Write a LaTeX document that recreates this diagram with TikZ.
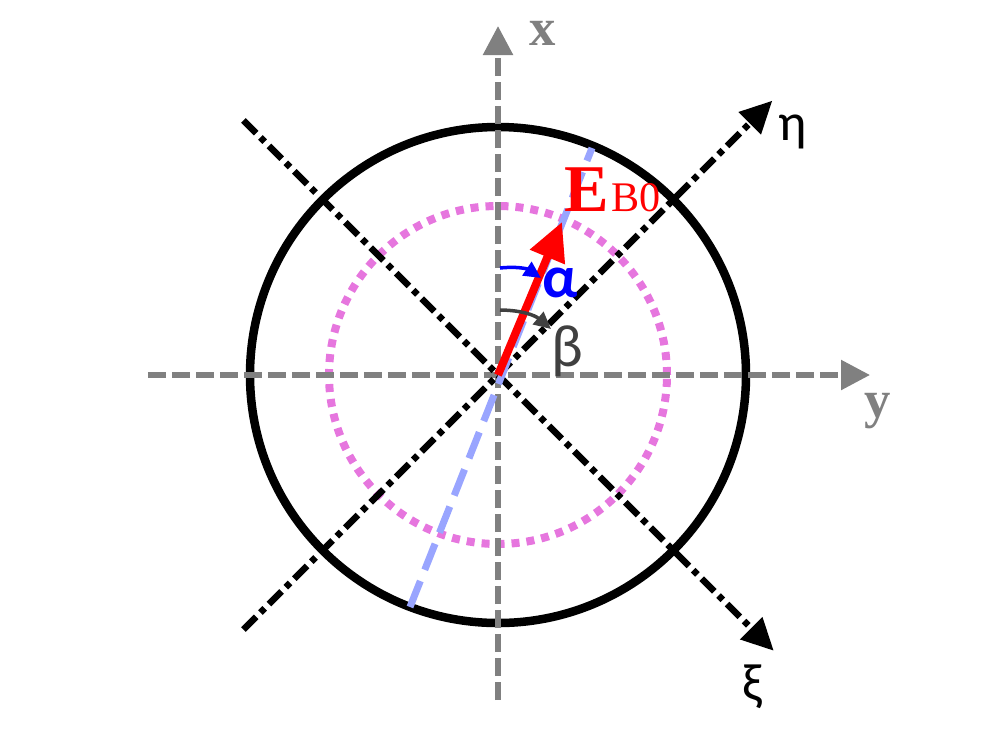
\documentclass[tikz,border=0pt]{standalone}
\usepackage{fontspec}
\setmainfont{Liberation Serif}
\newfontfamily\greekfont{Carlito}
\usetikzlibrary{arrows.meta,positioning}
\definecolor{axisgray}{RGB}{128,128,128}
\definecolor{ringpink}{RGB}{230,118,222}
\definecolor{linkblue}{RGB}{153,165,255}
\definecolor{anglegray}{RGB}{64,64,64}

\begin{document}
\begin{tikzpicture}[
    axis/.style={draw=axisgray, line width=0.055cm, dash pattern=on 0.18cm off 0.06cm,
      -{Triangle[length=0.29cm, width=0.29cm]}},
    principal/.style={draw=black, line width=0.065cm,
      dash pattern=on 0.18cm off 0.06cm on 0.06cm off 0.06cm,
      -{Triangle[length=0.32cm, width=0.30cm]}},
    ring/.style={draw=black, line width=0.085cm},
    inner ring/.style={draw=ringpink, line width=0.08cm, dash pattern=on 0.08cm off 0.07cm},
    field line/.style={draw=linkblue, line width=0.07cm, dash pattern=on 0.28cm off 0.12cm},
    field/.style={draw=red, line width=0.08cm, -{Triangle[length=0.38cm, width=0.36cm]}},
    angle/.style={line width=0.035cm, -{Triangle[length=0.17cm, width=0.16cm]}},
    axlabel/.style={text=axisgray, font=\fontsize{15}{15}\selectfont\bfseries, inner sep=0pt},
    greek/.style={font=\fontsize{15}{15}\selectfont\greekfont, inner sep=0pt}]
  \useasboundingbox (-4.98,-3.75) rectangle (5.02,3.75);
  \coordinate (O) at (0,0);
  % rings
  \draw[inner ring] (O) circle (1.69);
  \draw[ring] (O) circle (2.48);
  % lab axes
  \coordinate (xs) at (0,-3.25);
  \coordinate (xe) at (0,3.49);
  \coordinate (ys) at (-3.5,0);
  \coordinate (ye) at (3.72,0);
  \draw[axis] (xs) -- (xe);
  \draw[axis] (ys) -- (ye);
  % principal axes
  \coordinate (es) at (225:3.6);
  \coordinate (ee) at (45:3.88);
  \coordinate (ks) at (135:3.6);
  \coordinate (ke) at (-45:3.9);
  \draw[principal] (es) -- (ee);
  \draw[principal] (ks) -- (ke);
  % field direction
  \coordinate (fs) at (-0.88,-2.32);
  \coordinate (fe) at (0.94,2.27);
  \draw[field line] (fs) -- (fe);
  \coordinate (E) at (0.64,1.53);
  \draw[field] (O) -- (E);
  % angles
  \coordinate (a1) at (0.02,1.07);
  \coordinate (a2) at (0.43,0.97);
  \coordinate (b1) at (0.02,0.65);
  \coordinate (b2) at (0.53,0.46);
  \draw[angle, blue] (a1) to[bend left=20] (a2);
  \draw[angle, anglegray] (b1) to[bend left=20] (b2);
  % labels
  \node[axlabel] (xl) at (0.45,3.42) {x};
  \node[axlabel] (yl) at (3.80,-0.36) {y};
  \node[greek] (eta) at (2.95,2.43) {η};
  \node[greek] (xi) at (2.54,-3.12) {ξ};
  \node[greek, text=blue, font=\fontsize{17}{17}\selectfont\greekfont\bfseries] (alpha) at (0.62,0.92) {α};
  \node[greek, text=anglegray, font=\fontsize{17}{17}\selectfont\greekfont] (beta) at (0.69,0.24) {β};
  \node[text=red, inner sep=0pt, font=\fontsize{19}{19}\selectfont\bfseries] (EB) at (0.89,1.85) {E};
  \node[text=red, inner sep=0pt, font=\fontsize{12}{12}\selectfont, anchor=base west]
    (sub) at ([xshift=0.1mm]EB.base east) {B0};
\end{tikzpicture}
\end{document}
